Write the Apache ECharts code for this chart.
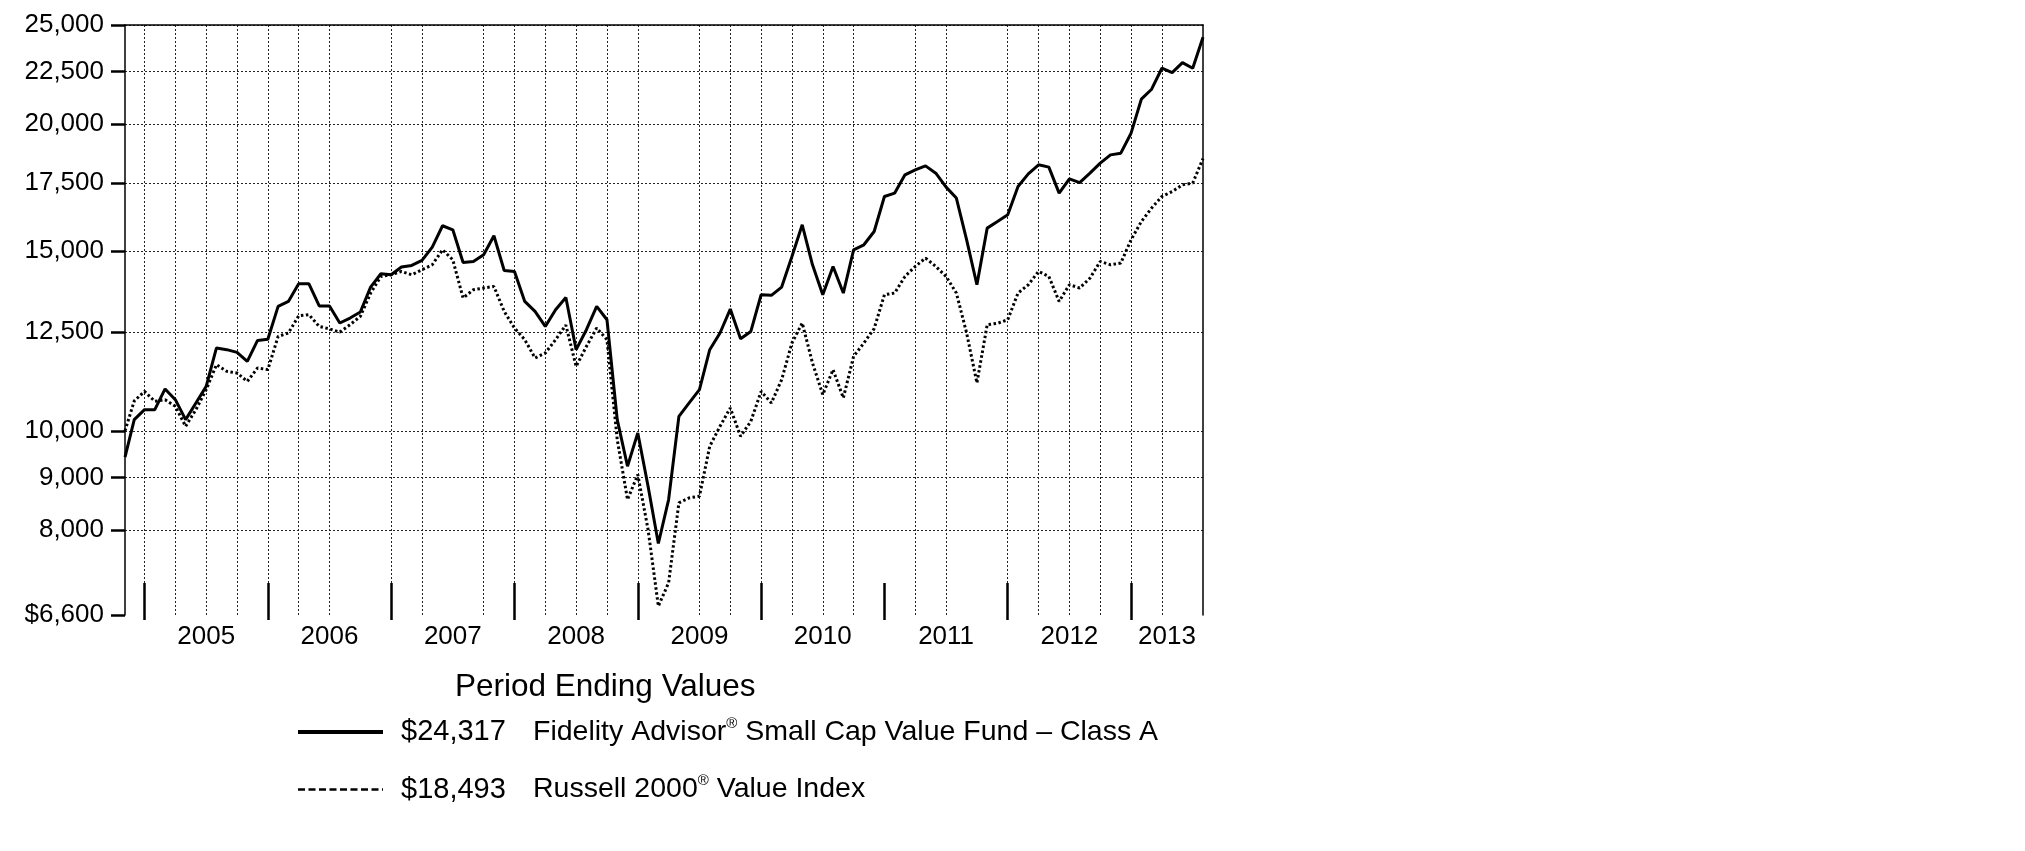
<!DOCTYPE html>
<html>
<head>
<meta charset="utf-8">
<title>Period Ending Values</title>
<script src="https://cdn.jsdelivr.net/npm/echarts@6/dist/echarts.min.js"></script>
<style>
  html, body { margin: 0; padding: 0; background: #fff; }
  #chart { width: 2025px; height: 851px; }
</style>
</head>
<body>
<div id="chart"></div>
<script>
// first point is the inception date, then one point per month end up to lastMonth
const inception = [2004, 11, 3]
const lastMonth = [2013, 7]

// hypothetical $10,000 investment
const fundValues = [
  9425, 10258, 10492, 10492, 10994, 10731, 10258, 10652, 11058, 12059,
  12013, 11940, 11700, 12267, 12300, 13245, 13395, 13940, 13940, 13260,
  13260, 12758, 12902, 13078, 13837, 14259, 14227, 14476, 14530, 14693,
  15144, 15890, 15746, 14626, 14660, 14883, 15535, 14365, 14333, 13395,
  13096, 12660, 13147, 13516, 12013, 12567, 13245, 12853, 10258, 9233,
  9955, 8826, 7756, 8565, 10335, 10652, 10976, 12013, 12473, 13167,
  12314, 12518, 13599, 13580, 13837, 14826, 15924, 14550, 13599, 14495,
  13651, 15051, 15222, 15686, 16975, 17106, 17825, 18027, 18191, 17893,
  17338, 16914, 15394, 13910, 15806, 16043, 16287, 17362, 17866, 18233,
  18138, 17106, 17665, 17518, 17893, 18303, 18648, 18720, 19583, 21145,
  21627, 22675, 22452, 22963, 22675, 24317
]
const indexValues = [
  10000, 10700, 10934, 10690, 10731, 10570, 10104, 10492, 10976, 11613,
  11439, 11396, 11184, 11527, 11484, 12378, 12473, 12966, 13000, 12660,
  12590, 12500, 12709, 12950, 13651, 14172, 14227, 14333, 14227, 14388,
  14551, 15051, 14713, 13500, 13753, 13807, 13855, 13096, 12615, 12287,
  11790, 11923, 12287, 12700, 11568, 12102, 12615, 12287, 9806, 8565,
  9061, 8004, 6733, 7098, 8501, 8597, 8630, 9659, 10104, 10533,
  9879, 10219, 10934, 10652, 11227, 12195, 12758, 11658, 10853, 11484,
  10773, 11832, 12195, 12600, 13599, 13651, 14172, 14495, 14773, 14495,
  14172, 13651, 12473, 11143, 12709, 12750, 12853, 13651, 13910, 14333,
  14172, 13395, 13910, 13807, 14118, 14660, 14551, 14607, 15394, 16043,
  16537, 16975, 17167, 17428, 17500, 18493
]

const seriesNames = ['Fidelity Advisor® Small Cap Value Fund – Class A', 'Russell 2000® Value Index']
const yTicks = [6600, 8000, 9000, 10000, 12500, 15000, 17500, 20000, 22500, 25000]
const years = [2005, 2006, 2007, 2008, 2009, 2010, 2011, 2012, 2013]
// dotted vertical lines that show in the picture (quarter starts)
const gridMonths = [
  '2005-01', '2005-04', '2005-07', '2005-10', '2006-01', '2006-04', '2006-07',
  '2007-01', '2007-04', '2007-10', '2008-01', '2008-04', '2008-07', '2008-10',
  '2009-01', '2009-07', '2009-10', '2010-01', '2010-04', '2010-07', '2010-10',
  '2011-04', '2011-07', '2012-01', '2012-04', '2012-07', '2012-10', '2013-01', '2013-04'
]

const BASE_YEAR = 2005
const FONT = "'Liberation Sans', Arial, sans-serif"

// months since Jan 1 of BASE_YEAR
function toMonths(y, m, d) {
  const dim = new Date(Date.UTC(y, m, 0)).getUTCDate()
  return (y - BASE_YEAR) * 12 + (m - 1) + (d || 0) / dim
}
function monthStr(s) {
  const p = s.split('-')
  return toMonths(+p[0], +p[1], 0)
}

const xPos = [toMonths(inception[0], inception[1], inception[2])]
let yy = inception[0], mm = inception[1]
while (yy < lastMonth[0] || (yy === lastMonth[0] && mm <= lastMonth[1])) {
  xPos.push(toMonths(yy, mm, new Date(Date.UTC(yy, mm, 0)).getUTCDate()))
  mm++
  if (mm > 12) { mm = 1; yy++ }
}
const xMin = xPos[0], xMax = xPos[xPos.length - 1]

const yearTicks = years.map(y => toMonths(y, 1, 0))
const yearLabelPos = years.map(y => {
  const a = toMonths(y, 1, 0)
  return (a + Math.min(a + 12, xMax)) / 2
})
const gridX = gridMonths.map(monthStr)

function money(v) {
  return Math.round(v).toLocaleString('en-US')
}
function yearOf(v) {
  let idx = 0, best = Infinity
  yearLabelPos.forEach((p, i) => { if (Math.abs(p - v) < best) { best = Math.abs(p - v); idx = i } })
  return String(years[idx])
}

const chart = echarts.init(document.getElementById('chart'))

const xCommon = { type: 'value', min: xMin, max: xMax, gridIndex: 0 }
const yCommon = { type: 'log', logBase: 10, min: yTicks[0], max: yTicks[yTicks.length - 1], gridIndex: 0 }
const gridLine = { show: true, lineStyle: { color: '#222', width: 1, type: [2, 2] } }
const frame = { show: true, onZero: false, lineStyle: { color: '#000', width: 1.5 } }

chart.setOption({
  animation: false,
  backgroundColor: '#fff',
  textStyle: { fontFamily: FONT, color: '#000' },
  title: {
    text: 'Period Ending Values',
    left: 455, top: 671, padding: 0,
    textStyle: { fontFamily: FONT, fontSize: 31.5, fontWeight: 'normal', color: '#000' }
  },
  grid: { left: 125, right: 822, top: 25, bottom: 236, containLabel: false },
  xAxis: [
    Object.assign({}, xCommon, {
      position: 'bottom', offset: 5,
      axisLine: { show: false, onZero: false },
      axisTick: { show: true, inside: true, length: 37, customValues: yearTicks, lineStyle: { color: '#000', width: 2.5 } },
      axisLabel: { show: true, customValues: yearLabelPos, formatter: v => yearOf(v), margin: 4, fontSize: 26, fontFamily: FONT, color: '#000' },
      splitLine: { show: false }
    }),
    Object.assign({}, xCommon, {
      position: 'bottom',
      axisLine: { show: false, onZero: false },
      axisTick: { show: false, customValues: gridX },
      axisLabel: { show: false },
      splitLine: gridLine
    }),
    Object.assign({}, xCommon, {
      position: 'top',
      axisLine: frame,
      axisTick: { show: false }, axisLabel: { show: false }, splitLine: { show: false }
    })
  ],
  yAxis: [
    Object.assign({}, yCommon, {
      position: 'left',
      axisLine: frame,
      axisTick: { show: true, length: 14, customValues: yTicks, lineStyle: { color: '#000', width: 2.5 } },
      axisLabel: {
        show: true, customValues: yTicks, margin: 21, fontSize: 26, fontFamily: FONT, color: '#000',
        formatter: v => (Math.round(v) === yTicks[0] ? '$' : '') + money(Math.round(v / 100) * 100)
      },
      splitLine: { show: false }
    }),
    Object.assign({}, yCommon, {
      position: 'left',
      axisLine: { show: false, onZero: false },
      axisTick: { show: false, customValues: yTicks.slice(1) },
      axisLabel: { show: false },
      splitLine: gridLine
    }),
    Object.assign({}, yCommon, {
      position: 'right',
      axisLine: frame,
      axisTick: { show: false }, axisLabel: { show: false }, splitLine: { show: false }
    })
  ],
  legend: {
    orient: 'vertical',
    left: 296, top: 716, padding: 0,
    itemWidth: 85, itemHeight: 14, itemGap: 27,
    selectedMode: false,
    itemStyle: { opacity: 0 },
    data: [
      { name: seriesNames[0], lineStyle: { width: 4, type: 'solid', color: '#000' } },
      { name: seriesNames[1], lineStyle: { width: 2.5, type: [7, 3.5], color: '#000' } }
    ],
    formatter: name => {
      const i = seriesNames.indexOf(name)
      const vals = i === 0 ? fundValues : indexValues
      const parts = name.split('®')
      return '{v|$' + money(vals[vals.length - 1]) + '}{n|' + parts[0] + '}{s|®}{n|' + parts[1] + '}'
    },
    textStyle: {
      fontFamily: FONT, color: '#000', fontSize: 28,
      rich: {
        v: { width: 132, padding: [0, 0, 0, 13], fontSize: 29, lineHeight: 32, fontFamily: FONT, color: '#000' },
        n: { fontSize: 28.5, lineHeight: 32, fontFamily: FONT, color: '#000' },
        s: { fontSize: 15, lineHeight: 24, verticalAlign: 'top', fontFamily: FONT, color: '#000' }
      }
    }
  },
  series: [
    {
      name: seriesNames[0], type: 'line', xAxisIndex: 0, yAxisIndex: 0,
      symbol: 'none', smooth: false,
      itemStyle: { color: '#000' },
      lineStyle: { color: '#000', width: 3 },
      data: fundValues.map((v, i) => [xPos[i], v])
    },
    {
      name: seriesNames[1], type: 'line', xAxisIndex: 0, yAxisIndex: 0,
      symbol: 'none', smooth: false,
      itemStyle: { color: '#000' },
      lineStyle: { color: '#000', width: 3, type: [2.5, 2.5] },
      data: indexValues.map((v, i) => [xPos[i], v])
    }
  ]
})
</script>
</body>
</html>
